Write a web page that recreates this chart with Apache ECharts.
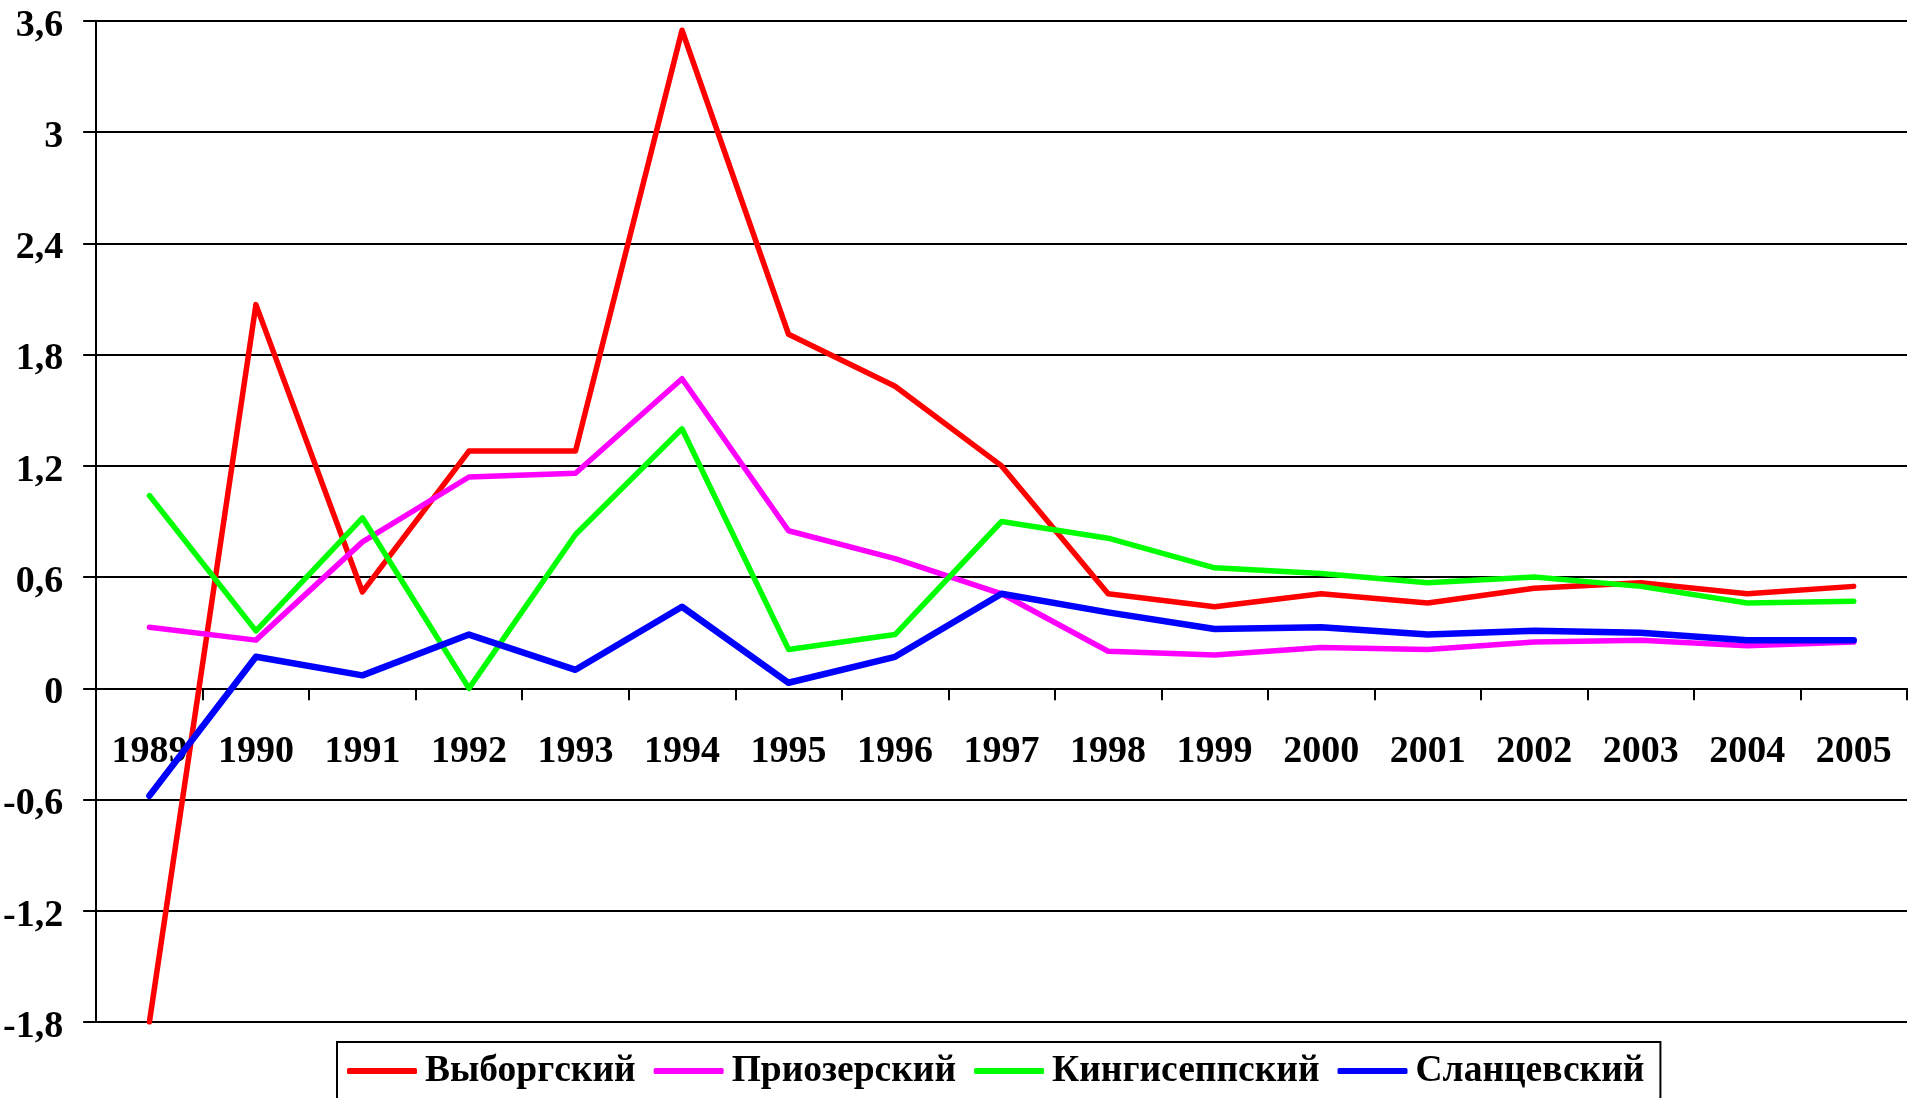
<!DOCTYPE html>
<html>
<head>
<meta charset="utf-8">
<script src="https://cdn.jsdelivr.net/npm/echarts@6/dist/echarts.min.js"></script>
<style>
html,body{margin:0;padding:0;background:#fff;}
#c{width:1909px;height:1098px;}
</style>
</head>
<body>
<div id="c"></div>
<script>
var years = ['1989','1990','1991','1992','1993','1994','1995','1996','1997','1998','1999','2000','2001','2002','2003','2004','2005'];
var seriesNames = ['Выборгский','Приозерский','Кингисеппский','Сланцевский'];
var vyborgsky   = [-1.8, 2.07, 0.52, 1.28, 1.28, 3.55, 1.91, 1.63, 1.20, 0.51, 0.44, 0.51, 0.46, 0.54, 0.57, 0.51, 0.55];
var priozersky  = [0.33, 0.26, 0.79, 1.14, 1.16, 1.67, 0.85, 0.70, 0.51, 0.20, 0.18, 0.22, 0.21, 0.25, 0.26, 0.23, 0.25];
var kingiseppsky= [1.04, 0.31, 0.92, 0.00, 0.83, 1.40, 0.21, 0.29, 0.90, 0.81, 0.65, 0.62, 0.57, 0.60, 0.55, 0.46, 0.47];
var slantsevsky = [-0.58, 0.17, 0.07, 0.29, 0.10, 0.44, 0.03, 0.17, 0.51, 0.41, 0.32, 0.33, 0.29, 0.31, 0.30, 0.26, 0.26];
var colors = ['#FF0000','#FF00FF','#00FF00','#0000FF'];
var widths = [5.5, 5.5, 5.5, 6.5];
var yMin = -1.8, yMax = 3.6, yStep = 0.6;

var W = 1909, H = 1098;
var gridTop = 21, gridBottom = 76;
var plotH = H - gridTop - gridBottom;
// pixel distance from grid bottom edge up to value 0
var zeroOffset = plotH * (0 - yMin) / (yMax - yMin);

var font = 'Liberation Serif';
var dataSets = [vyborgsky, priozersky, kingiseppsky, slantsevsky];
var series = seriesNames.map(function(n, i){
  return {
    name: n, type: 'line', data: dataSets[i],
    symbol: 'none', showSymbol: false, animation: false,
    lineStyle: {color: colors[i], width: widths[i], cap: 'round', join: 'round'},
    itemStyle: {color: colors[i]}
  };
});

var chart = echarts.init(document.getElementById('c'), null, {renderer: 'canvas'});
chart.setOption({
  backgroundColor: '#fff',
  animation: false,
  color: colors,
  grid: {left: 95, right: 2, top: gridTop, bottom: gridBottom, containLabel: false},
  legend: {
    data: seriesNames,
    left: 337, top: 1042,
    orient: 'horizontal',
    borderColor: '#000', borderWidth: 2,
    padding: [10, 16, 10, 10],
    itemGap: 18,
    icon: 'roundRect',
    itemWidth: 70, itemHeight: 6,
    itemStyle: {borderWidth: 0},
    textStyle: {fontFamily: font, fontWeight: 'bold', fontSize: 37.5, color: '#000', padding: [0, 0, 0, 3]}
  },
  xAxis: {
    type: 'category', data: years, boundaryGap: true,
    offset: -zeroOffset,
    axisLine: {onZero: false, lineStyle: {color: '#000', width: 2}},
    axisTick: {show: true, length: 12, lineStyle: {color: '#000', width: 2}},
    axisLabel: {margin: 45, interval: 0, color: '#000', fontFamily: font, fontWeight: 'bold', fontSize: 38},
    splitLine: {show: false}
  },
  yAxis: {
    type: 'value', min: yMin, max: yMax, interval: yStep,
    axisLine: {show: true, lineStyle: {color: '#000', width: 2}},
    axisTick: {show: true, length: 13, lineStyle: {color: '#000', width: 2}},
    axisLabel: {margin: 33, color: '#000', fontFamily: font, fontWeight: 'bold', fontSize: 38,
      formatter: function(v){ var r = Math.round(v*10)/10; return '{v|' + String(r).replace('.', ',') + '}'; },
      rich: {v: {fontFamily: font, fontWeight: 'bold', fontSize: 38, color: '#000', padding: [10, 0, 0, 0]}}},
    splitLine: {show: true, lineStyle: {color: '#000', width: 2}}
  },
  series: series
});
</script>
</body>
</html>
